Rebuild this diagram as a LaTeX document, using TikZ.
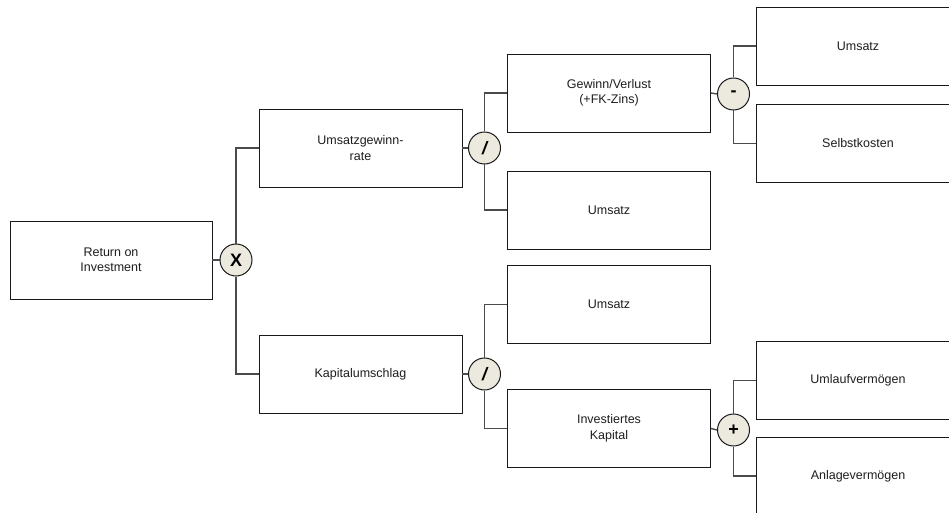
\documentclass[tikz,border=0pt]{standalone}
\usepackage{fontspec}
\setmainfont{Liberation Sans}
\definecolor{opfill}{RGB}{236,233,222}
\definecolor{conn}{RGB}{75,75,75}
\definecolor{boxline}{RGB}{25,25,25}
\definecolor{txt}{RGB}{30,30,30}
\tikzset{
  box/.style={draw=boxline, line width=0.9pt, fill=white, minimum width=203pt, minimum height=78pt,
    inner sep=0pt, align=center, text=txt, font=\fontsize{12.5}{15.5}\selectfont},
  op/.style={circle, draw=boxline, line width=1pt, fill=opfill, minimum size=32pt, inner sep=0pt,
    font=\fontsize{18}{18}\selectfont\bfseries},
  link/.style={draw=conn, line width=1.4pt}
}
\begin{document}
\begin{tikzpicture}[x=1pt,y=-1pt]
\useasboundingbox (0,0) rectangle (949,513);
% boxes
\node[box, minimum width=202pt] (roi) at (111,260) {Return on\\Investment};
\node[box] (ugr) at (360.5,148) {Umsatzgewinn-\\rate};
\node[box] (kap) at (360.5,374) {Kapitalumschlag};
\node[box] (gv) at (609,93) {Gewinn/Verlust\\(+FK-Zins)};
\node[box] (um1) at (609,210) {Umsatz};
\node[box] (um2) at (609,304.5) {Umsatz};
\node[box] (ik) at (609,428.5) {Investiertes\\Kapital};
\node[box] (um3) at (858,46) {Umsatz};
\node[box] (sk) at (858,143.5) {Selbstkosten};
\node[box] (ulv) at (858,380.5) {Umlaufvermögen};
\node[box] (alv) at (858,476) {Anlagevermögen};
% operators
\node[op] (x) at (236,260) {X};
\node[op] (d1) at (484.5,148) {\itshape /};
\node[op] (d2) at (484.5,374) {\itshape /};
\node[op] (m) at (733.5,94) {-};
\node[op] (p) at (733.5,430) {+};
% connectors
\draw[link] (roi.east) -- (x.west);
\draw[link] (x.north) |- (ugr.west);
\draw[link] (x.south) |- (kap.west);
\draw[link] (ugr.east) -- (d1.west);
\draw[link] (d1.north) |- (gv.west);
\draw[link] (d1.south) |- (um1.west);
\draw[link] (kap.east) -- (d2.west);
\draw[link] (d2.north) |- (um2.west);
\draw[link] (d2.south) |- (ik.west);
\draw[link] (gv.east) -- (m.west);
\draw[link] (m.north) |- (um3.west);
\draw[link] (m.south) |- (sk.west);
\draw[link] (ik.east) -- (p.west);
\draw[link] (p.north) |- (ulv.west);
\draw[link] (p.south) |- (alv.west);
\end{tikzpicture}
\end{document}
